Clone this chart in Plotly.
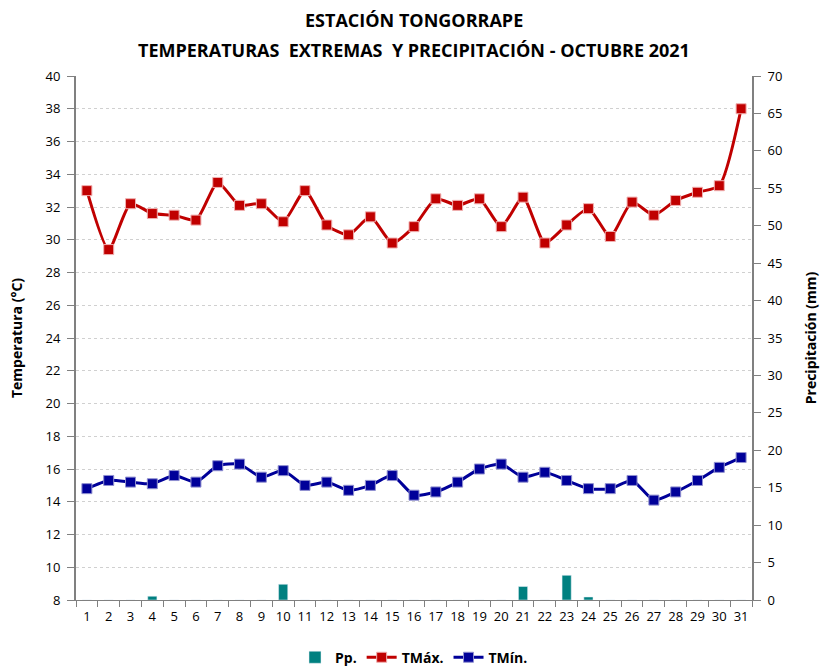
import plotly.graph_objects as go

dias = [str(d) for d in range(1, 32)]
tmax = [33.0, 29.4, 32.2, 31.6, 31.5, 31.2, 33.5, 32.1, 32.2, 31.1, 33.0, 30.9, 30.3, 31.4, 29.8,
        30.8, 32.5, 32.1, 32.5, 30.8, 32.6, 29.8, 30.9, 31.9, 30.2, 32.3, 31.5, 32.4, 32.9, 33.3, 38.0]
tmin = [14.8, 15.3, 15.2, 15.1, 15.6, 15.2, 16.2, 16.3, 15.5, 15.9, 15.0, 15.2, 14.7, 15.0, 15.6,
        14.4, 14.6, 15.2, 16.0, 16.3, 15.5, 15.8, 15.3, 14.8, 14.8, 15.3, 14.1, 14.6, 15.3, 16.1, 16.7]
pp = [0, 0, 0, 0.5, 0, 0, 0, 0, 0, 2.1, 0, 0, 0, 0, 0,
      0, 0, 0, 0, 0, 1.8, 0, 3.3, 0.4, 0, 0, 0, 0, 0, 0, 0]

titulo1 = "ESTACIÓN TONGORRAPE"
titulo2 = "TEMPERATURAS  EXTREMAS  Y PRECIPITACIÓN - OCTUBRE 2021"

FONT = "Open Sans"

fig = go.Figure()
fig.add_trace(go.Bar(x=dias, y=pp, name="<b>Pp.</b>", yaxis="y2", marker=dict(color="#008080"),
                     width=0.42))
fig.add_trace(go.Scatter(x=dias, y=tmax, name="<b>TMáx.</b>", mode="lines+markers",
                         line=dict(color="#C00000", width=3, shape="spline", smoothing=0.6),
                         marker=dict(symbol="square", size=10, color="#C00000",
                                     line=dict(color="#F0B0B0", width=1))))
fig.add_trace(go.Scatter(x=dias, y=tmin, name="<b>TMín.</b>", mode="lines+markers",
                         line=dict(color="#000099", width=3, shape="spline", smoothing=0.6),
                         marker=dict(symbol="square", size=10, color="#000099",
                                     line=dict(color="#9090D0", width=1))))

fig.update_layout(
    width=823, height=667,
    margin=dict(l=76, r=71, t=76, b=67, autoexpand=False),
    paper_bgcolor="white", plot_bgcolor="white",
    font=dict(family=FONT, size=13, color="black"),
    annotations=[
        dict(text="<b>" + titulo1 + "</b>", xref="paper", yref="paper", x=0.5, y=1.107,
             xanchor="center", yanchor="middle", showarrow=False,
             font=dict(family=FONT, size=18, color="black")),
        dict(text="<b>" + titulo2 + "</b>", xref="paper", yref="paper", x=0.5, y=1.0496,
             xanchor="center", yanchor="middle", showarrow=False,
             font=dict(family=FONT, size=18, color="black")),
    ],
    showlegend=True,
    legend=dict(orientation="h", x=0.5, xanchor="center", y=-0.11, yanchor="middle",
                font=dict(family=FONT, size=14, color="black"), traceorder="normal"),
    bargap=0.58,
    xaxis=dict(type="category", showgrid=False, showline=True, linecolor="#808080", linewidth=1,
               ticks="outside", tickson="boundaries", ticklen=6, tickcolor="#808080",
               tickangle=0, tickfont=dict(size=13), ticklabelstandoff=4,
               range=[-0.5, 30.5], automargin=False),
    yaxis=dict(range=[8, 40], dtick=2, showgrid=True, gridcolor="#D0D0D0", griddash="dot",
               showline=True, linecolor="#808080", linewidth=2, ticks="outside", ticklen=7,
               tickcolor="#808080", zeroline=False, automargin=False,
               tickfont=dict(size=13), ticklabelstandoff=4,
               title=dict(text="<b>Temperatura (°C)</b>", font=dict(size=14), standoff=20)),
    yaxis2=dict(range=[0, 70], dtick=5, overlaying="y", side="right", showgrid=False,
                showline=True, linecolor="#808080", linewidth=2, ticks="outside", ticklen=7,
                tickcolor="#808080", zeroline=False, automargin=False,
                tickfont=dict(size=13), ticklabelstandoff=4,
                title=dict(text="<b>Precipitación (mm)</b>", font=dict(size=14), standoff=25)),
)

fig.write_html("out.html", config={"displayModeBar": False},
               post_script="document.body.style.margin='0';document.body.style.overflow='hidden';")
